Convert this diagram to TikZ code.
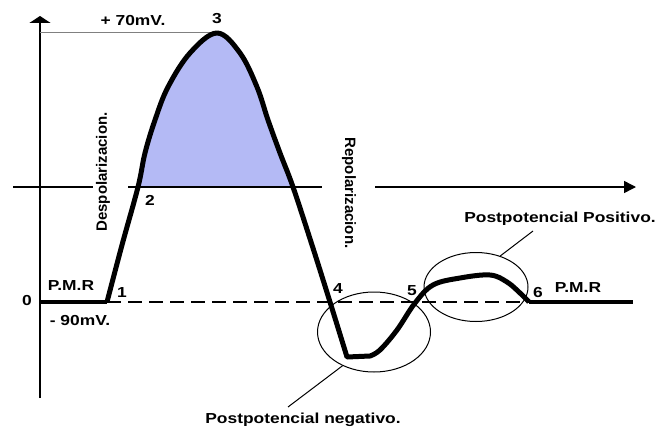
\documentclass[tikz,border=0pt]{standalone}
\usepackage{fontspec}
\newfontfamily\lblfont{Liberation Sans}[FakeStretch=1.2]
\newfontfamily\rotfont{Liberation Sans}
\usepackage{tikz}
\usetikzlibrary{arrows.meta, shapes.geometric, positioning}
\definecolor{spikefill}{RGB}{180,186,245}

\begin{document}
\begin{tikzpicture}[
    x=1pt, y=-1pt,
    lbl/.style={inner sep=0pt, font=\lblfont\bfseries\fontsize{14.5}{16}\selectfont},
    vlbl/.style={inner sep=0pt, font=\rotfont\bfseries\fontsize{15}{17}\selectfont},
    axis/.style={line width=2pt},
    trace/.style={line width=5pt, line join=round},
    rest/.style={line width=3.5pt},
    zone/.style={ellipse, draw, line width=1pt, inner sep=0pt},
    leader/.style={line width=1pt}
]
    \useasboundingbox (0,0) rectangle (658,428);

    % shaded part of the spike, above the threshold line
    \begin{scope}
        \clip (0,0) rectangle (658,187);
        \fill[spikefill] plot[smooth, tension=0.6] coordinates {(107,302) (122,245) (138,187) (145,153) (155,120) (168,87) (190,53) (217,33) (240,53) (257,87) (268,120) (280,153) (293,187) (312,245) (330,302) (347,357)} -- cycle;
    \end{scope}

    % axes
    \coordinate (ybot) at (40,398);
    \coordinate (ytop) at (40,16);
    \draw[axis, -{Triangle[length=7pt, width=21pt]}] (ybot) -- (ytop);

    \coordinate (thA) at (13,187);
    \coordinate (thB) at (93,187);
    \coordinate (thC) at (128,187);
    \coordinate (thD) at (322,187);
    \coordinate (thE) at (375,187);
    \coordinate (thF) at (636,187);
    \draw[line width=1.5pt] (thA) -- (thB);
    \draw[line width=1.5pt] (thC) -- (thD);
    \draw[line width=1.5pt, -{Triangle[length=12pt, width=12pt]}] (thE) -- (thF);

    % peak level and resting level
    \coordinate (peak) at (217,33);
    \draw[gray, line width=1pt] (40,33) -- (peak);
    \coordinate (p1) at (107,302);
    \coordinate (p6) at (529,302);
    \draw[line width=1.3pt, dash pattern=on 14pt off 7pt] (p1) -- (p6);

    % potential trace
    \draw[rest] (40,302) -- (p1);
    \draw[trace] plot[smooth, tension=0.6] coordinates {(107,302) (122,245) (138,187) (145,153) (155,120) (168,87) (190,53) (217,33) (240,53) (257,87) (268,120) (280,153) (293,187) (312,245) (330,302) (347,357)}
        -- plot[smooth, tension=0.6] coordinates {(370,356) (380,350) (397,330) (415,303) (433,285) (460,278) (490,275) (507,282) (520,293) (529,302)};
    \draw[rest] (p6) -- (633,302);

    % after-potential zones
    \node[zone, minimum width=113pt, minimum height=80pt] (negzone) at (374,332) {};
    \node[zone, minimum width=104pt, minimum height=69pt] (poszone) at (476,287) {};

    % labels
    \node[lbl] (mvtop) at (133,21) {+ 70mV.};
    \node[lbl] (n3) at (217,19) {3};
    \node[lbl] (n2) at (150,200) {2};
    \node[lbl] (n1) at (122,293) {1};
    \node[lbl] (zero) at (27,301) {0};
    \node[lbl] (pmrleft) at (71,286) {P.M.R};
    \node[lbl] (mvrest) at (80,321) {- 90mV.};
    \node[lbl] (n4) at (338,289) {4};
    \node[lbl] (n5) at (412,291) {5};
    \node[lbl] (n6) at (538,293) {6};
    \node[lbl] (pmrright) at (578,288) {P.M.R};
    \node[vlbl, rotate=90] (despol) at (103,172) {Despolarizacion.};
    \node[vlbl, rotate=-90] (repol) at (349,193) {Repolarizacion.};
    \node[lbl] (postpos) at (560,219) {Postpotencial Positivo.};
    \node[lbl] (postneg) at (303,420) {Postpotencial negativo.};

    \coordinate (negtip) at (288,407);
    \coordinate (postip) at (533,231);
    \draw[leader] (negtip) -- (negzone.227);
    \draw[leader] (postip) -- (poszone.52);
\end{tikzpicture}
\end{document}
